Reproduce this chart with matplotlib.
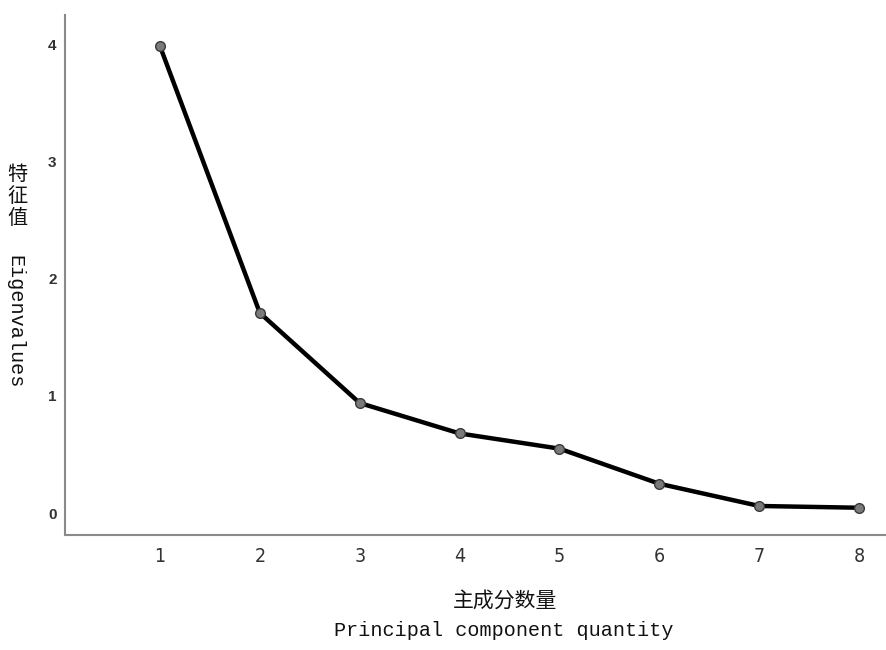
import matplotlib
matplotlib.use("Agg")
import matplotlib.pyplot as plt

components = [1, 2, 3, 4, 5, 6, 7, 8]
eigenvalues = [3.99, 1.71, 0.94, 0.68, 0.55, 0.25, 0.06, 0.045]
x_ticks = [1, 2, 3, 4, 5, 6, 7, 8]
y_ticks = [0, 1, 2, 3, 4]

fig = plt.figure(figsize=(8.86, 6.5), dpi=100)
ax = fig.add_axes([65/886, 1-535/650, 1-65/886, (535-15)/650])

ax.plot(components, eigenvalues, color="black", linewidth=3.2,
        marker="o", markersize=7, markerfacecolor="#7a7a7a",
        markeredgecolor="#3a3a3a", markeredgewidth=1.0, zorder=3)

ax.set_xlim(0.049, 8.27)
ax.set_ylim(-0.188, 4.256)
ax.set_xticks(x_ticks)
ax.set_yticks(y_ticks)
ax.tick_params(axis="both", length=0, labelcolor="#222222")
ax.tick_params(axis="y", pad=6, labelsize=11)
ax.tick_params(axis="x", pad=9, labelsize=14)
for lab in ax.get_xticklabels():
    lab.set_family(["Liberation Sans Narrow", "DejaVu Sans"])
    lab.set_fontstretch("condensed")
    lab.set_color("#333333")
for lab in ax.get_yticklabels():
    lab.set_family(["Liberation Sans"])
    lab.set_fontweight("bold")
    lab.set_color("#333333")

for s in ["top", "right"]:
    ax.spines[s].set_visible(False)
for s in ["left", "bottom"]:
    ax.spines[s].set_color("#8a8a8a")
    ax.spines[s].set_linewidth(1.5)

# Y label: stacked Chinese + rotated English
fig.text(17/886, 1-174/650, "特", family=["Noto Sans CJK SC"], fontsize=14.5,
         ha="center", va="center", color="#111111")
fig.text(17/886, 1-196/650, "征", family=["Noto Sans CJK SC"], fontsize=14.5,
         ha="center", va="center", color="#111111")
fig.text(17/886, 1-218/650, "值", family=["Noto Sans CJK SC"], fontsize=14.5,
         ha="center", va="center", color="#111111")
fig.text(15/886, 1-322/650, "Eigenvalues", family=["Liberation Mono"], fontsize=14.5,
         rotation=270, ha="center", va="center", color="#111111")

# X label
fig.text(505/886, 1-601/650, "主成分数量", family=["Noto Sans CJK SC"], fontsize=15,
         ha="center", va="center", color="#111111")
fig.text(504/886, 1-630/650, "Principal component quantity", family=["Liberation Mono"],
         fontsize=14.5, ha="center", va="center", color="#111111")

fig.savefig("out.png", dpi=100)
